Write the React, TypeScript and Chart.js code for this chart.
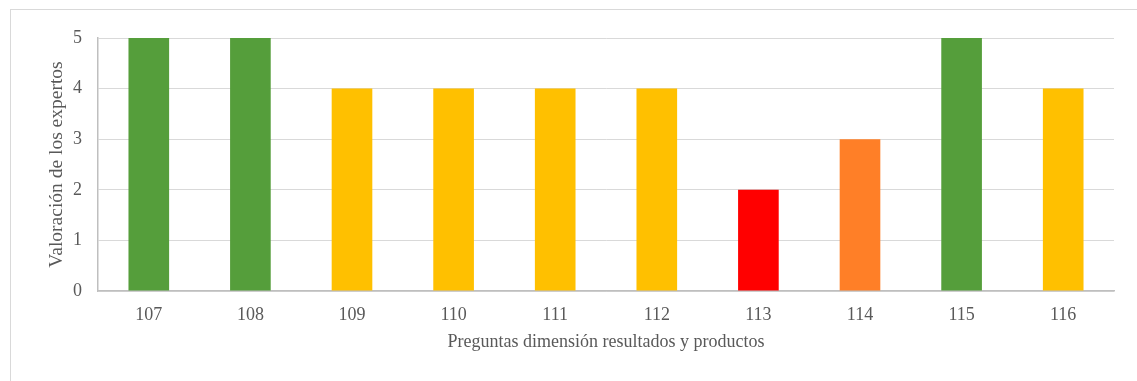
import React, { useEffect, useRef } from "react";
import { Chart, registerables } from "chart.js";

Chart.register(...registerables);

// Question numbers on the category axis
const preguntas: string[] = ["107", "108", "109", "110", "111", "112", "113", "114", "115", "116"];
// Expert rating per question (0–5)
const valoraciones: number[] = [5, 5, 4, 4, 4, 4, 2, 3, 5, 4];
// Colour per rating level
const colorPorValor: Record<number, string> = {
  5: "#559E3B",
  4: "#FFC000",
  3: "#FF7F27",
  2: "#FF0000",
  1: "#FF0000",
};
const yTicks: number[] = [0, 1, 2, 3, 4, 5];

const FONT = '"Liberation Serif", "Times New Roman", serif';
const TEXT = "#595959";

export default function App() {
  const canvasRef = useRef<HTMLCanvasElement | null>(null);

  useEffect(() => {
    if (!canvasRef.current) return;
    const chart = new Chart(canvasRef.current, {
      type: "bar",
      data: {
        labels: preguntas,
        datasets: [
          {
            label: "Valoración",
            data: valoraciones,
            backgroundColor: valoraciones.map((v) => colorPorValor[v]),
            borderWidth: 0,
            categoryPercentage: 1,
            barPercentage: 0.4,
          },
        ],
      },
      options: {
        animation: false,
        responsive: false,
        maintainAspectRatio: false,
        layout: { padding: { left: 0, top: 38, right: 23, bottom: 0 } },
        plugins: {
          legend: { display: false },
          tooltip: { enabled: false },
        },
        scales: {
          x: {
            grid: { display: false },
            border: { display: true, color: "#BFBFBF", width: 1.5 },
            ticks: { color: TEXT, font: { family: FONT, size: 18 }, padding: 5 },
            title: {
              display: true,
              text: "Preguntas dimensión resultados y productos",
              color: TEXT,
              font: { family: FONT, size: 18 },
              padding: { top: 0, bottom: 28 },
            },
            afterFit: (scale: any) => {
              scale.height = 90;
            },
          },
          y: {
            min: 0,
            max: 5,
            afterBuildTicks: (scale: any) => {
              scale.ticks = yTicks.map((v) => ({ value: v }));
            },
            grid: { color: "#D9D9D9", lineWidth: 1, drawTicks: false },
            border: { display: true, color: "#BFBFBF", width: 1.5 },
            ticks: { color: TEXT, font: { family: FONT, size: 18 }, padding: 16 },
            title: {
              display: true,
              text: "Valoración de los expertos",
              color: TEXT,
              font: { family: FONT, size: 19.5 },
              padding: { top: 45, bottom: 0 },
            },
            afterFit: (scale: any) => {
              scale.width = 98;
            },
          },
        },
      },
    });
    return () => chart.destroy();
  }, []);

  return (
    <div style={{ position: "absolute", left: 0, top: 0, width: 1137, height: 381, overflow: "hidden", background: "#fff" }}>
      <div
        style={{
          position: "absolute",
          left: 10,
          top: 9,
          width: 1200,
          height: 400,
          borderLeft: "1.5px solid #D9D9D9",
          borderTop: "1.5px solid #D9D9D9",
        }}
      />
      <canvas ref={canvasRef} width={1137} height={381} style={{ position: "absolute", left: 0, top: 0 }} />
    </div>
  );
}
